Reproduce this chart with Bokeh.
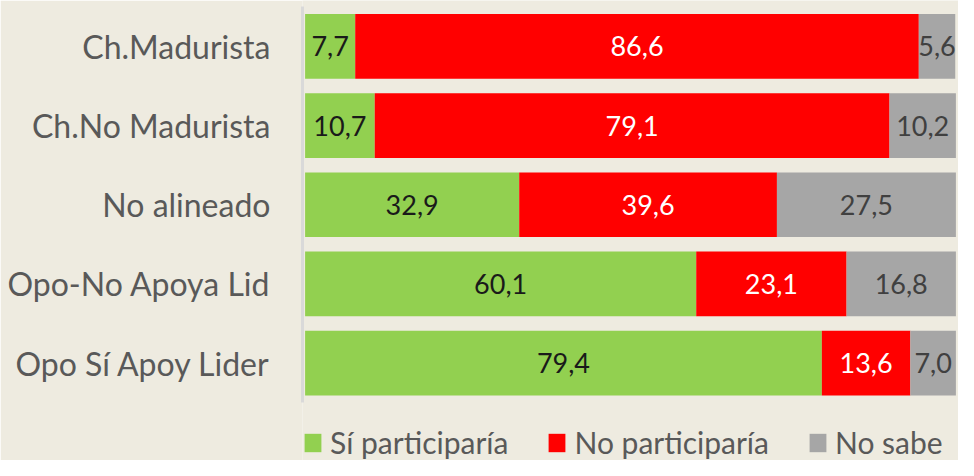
from bokeh.plotting import figure
from bokeh.models import ColumnDataSource, Range1d, Legend, LegendItem, FixedTicker
from bokeh.core.properties import value
from bokeh.embed import file_html
from bokeh.resources import INLINE

categories = ["Ch.Madurista", "Ch.No Madurista", "No alineado", "Opo-No Apoya Lid", "Opo Sí Apoy Lider"]
si_participaria = [7.7, 10.7, 32.9, 60.1, 79.4]
no_participaria = [86.6, 79.1, 39.6, 23.1, 13.6]
no_sabe = [5.6, 10.2, 27.5, 16.8, 7.0]
series_names = ["Sí participaría", "No participaría", "No sabe"]
series_keys = ["si", "no", "ns"]
colors = ["#92D050", "#FF0000", "#A6A6A6"]
label_colors = ["#1A1A1A", "#FFFFFF", "#404040"]

FONT = "Lato"
BG = "#EEEBE0"

n = len(categories)
ypos = [n - 1 - i for i in range(n)]  # first category on top

data = {"y": ypos, "si": si_participaria, "no": no_participaria, "ns": no_sabe}
src = ColumnDataSource(data)

p = figure(width=958, height=460, output_backend="svg", toolbar_location=None,
           y_range=Range1d(-1.23, n - 0.42),
           x_range=Range1d(-0.4, 100.4),
           min_border_left=302, min_border_right=0, min_border_top=0, min_border_bottom=0)
p.background_fill_color = BG
p.border_fill_color = BG
p.outline_line_color = None
p.grid.visible = False
p.xaxis.visible = False

renderers = p.hbar_stack(series_keys, y="y", height=0.817, color=colors, source=src, line_color=None)

# data labels
cum = [0.0] * n
series_vals = [si_participaria, no_participaria, no_sabe]
for vals, lc in zip(series_vals, label_colors):
    xs = [c + v / 2 for c, v in zip(cum, vals)]
    txt = [f"{v:.1f}".replace(".", ",") for v in vals]
    cum = [c + v for c, v in zip(cum, vals)]
    ls = ColumnDataSource(dict(x=xs, y=ypos, t=txt))
    p.text(x="x", y="y", text="t", source=ls, text_align="center", text_baseline="middle",
           text_color=lc, text_font=value(FONT), text_font_size="27px")

yax = p.yaxis[0]
yax.ticker = FixedTicker(ticks=ypos)
yax.major_label_overrides = {y: c for y, c in zip(ypos, categories)}
yax.bounds = (-0.5, n - 0.5)
yax.axis_line_color = "#D9D9D9"
yax.axis_line_width = 3
yax.major_tick_line_color = None
yax.minor_tick_line_color = None
yax.major_tick_out = 0
yax.major_tick_in = 0
yax.major_label_standoff = 32
yax.major_label_text_font = FONT
yax.major_label_text_font_size = "32px"
yax.major_label_text_color = "#595959"

legend = Legend(items=[LegendItem(label=s, renderers=[r]) for s, r in zip(series_names, renderers)],
                orientation="horizontal", location=(0, 0),
                glyph_width=21, glyph_height=23, label_standoff=7, spacing=38,
                padding=0, margin=0,
                label_text_font=FONT, label_text_font_size="30px", label_text_color="#595959",
                border_line_color=None, background_fill_alpha=0)
p.add_layout(legend, "center")

open("out.html", "w").write(file_html(p, INLINE))
